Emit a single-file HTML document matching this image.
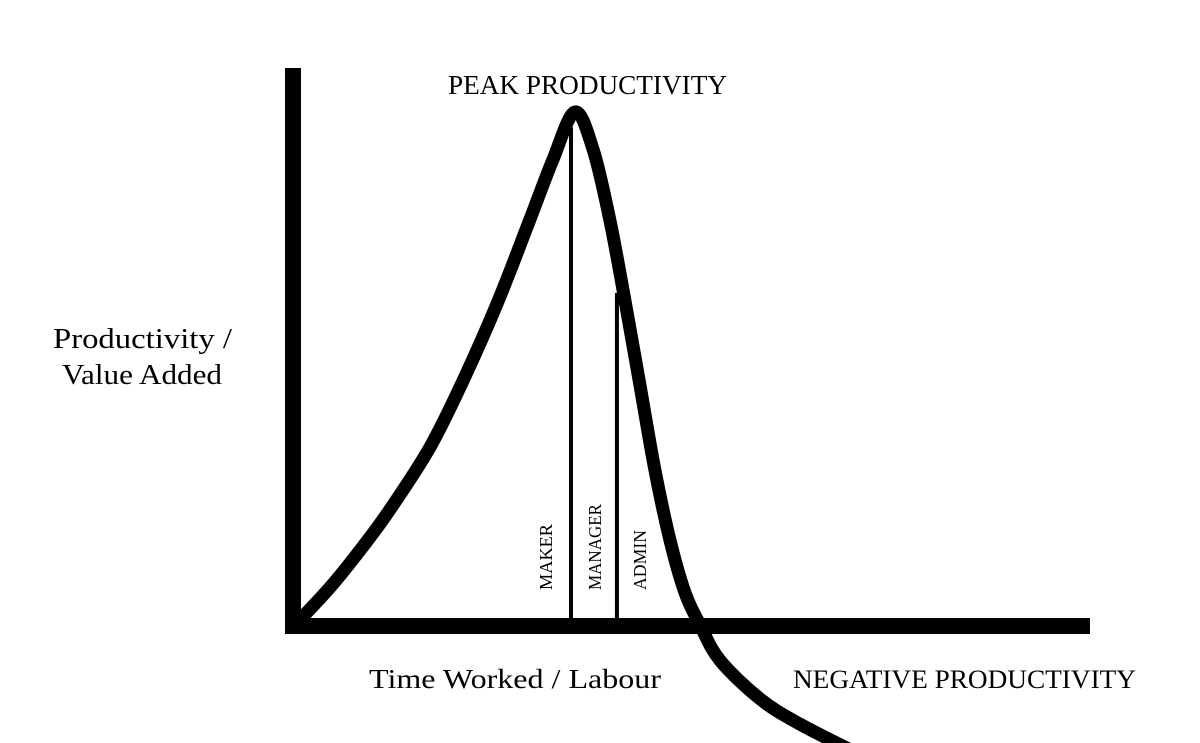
<!DOCTYPE html>
<html><head><meta charset="utf-8"><style>
html,body{margin:0;padding:0;background:#fff;}
svg{display:block;font-family:"Liberation Serif","DejaVu Serif",serif;}
</style></head><body>
<svg id="chart" width="1200" height="743" viewBox="0 0 1200 743">
<rect x="285" y="68" width="16" height="566" fill="#000"/>
<rect x="285" y="618" width="805" height="16" fill="#000"/>
<text x="448" y="94" font-size="27" textLength="279" lengthAdjust="spacingAndGlyphs">PEAK PRODUCTIVITY</text>
<text x="53" y="348" font-size="28" textLength="179" lengthAdjust="spacingAndGlyphs">Productivity /</text>
<text x="62" y="384" font-size="28" textLength="160" lengthAdjust="spacingAndGlyphs">Value Added</text>
<text x="369" y="688" font-size="27" textLength="292" lengthAdjust="spacingAndGlyphs">Time Worked / Labour</text>
<text x="793" y="688" font-size="26" textLength="343" lengthAdjust="spacingAndGlyphs">NEGATIVE PRODUCTIVITY</text>
<g id="marks"></g>
</svg>
<script>
const curveX=[0.5,4.7,8.8,12.2,17.3,21.5,25.8,29.9,32.8,35.6,37.9,40.0,41.9,43.8,45.7,47.6,49.5,51.4,53.9,59.0,64.0,71.6];
const curveY=[0.6,7.6,15.5,22.7,35.0,48.1,63.2,79.5,91.2,100.6,93.2,79.5,63.8,47.2,30.5,16.8,6.5,0.2,-6.7,-14.3,-19.2,-25.2];
const roleNames=["MAKER","MANAGER","ADMIN"];
const roleX=[35.1,40.9];
const roleTop=[97.6,65.2];
const sx=v=>293+v*7.92, sy=v=>626-v*5.11;
const NS="http://www.w3.org/2000/svg";
const g=document.getElementById('marks');
const pts=curveX.map((x,i)=>[sx(x),sy(curveY[i])]);
let d=`M${pts[0][0]},${pts[0][1]}`;
for(let i=0;i<pts.length-1;i++){
  const p0=pts[Math.max(0,i-1)],p1=pts[i],p2=pts[i+1],p3=pts[Math.min(pts.length-1,i+2)];
  d+=` C${p1[0]+(p2[0]-p0[0])/6},${p1[1]+(p2[1]-p0[1])/6} ${p2[0]-(p3[0]-p1[0])/6},${p2[1]-(p3[1]-p1[1])/6} ${p2[0]},${p2[1]}`;
}
const path=document.createElementNS(NS,'path');
path.setAttribute('d',d);path.setAttribute('fill','none');path.setAttribute('stroke','#000');path.setAttribute('stroke-width','13');path.setAttribute('stroke-linecap','round');path.setAttribute('stroke-linejoin','round');


g.appendChild(path);
roleX.forEach((x,i)=>{
  const l=document.createElementNS(NS,'line');
  l.setAttribute('x1',sx(x));l.setAttribute('x2',sx(x));l.setAttribute('y1',sy(roleTop[i]));l.setAttribute('y2',620);
  l.setAttribute('stroke','#000');l.setAttribute('stroke-width','4');
  
  
  g.appendChild(l);
});
const labelX=[sx(roleX[0])-19,sx(roleX[0])+30,sx(roleX[1])+29];
const labelLen=[66,86,60];
roleNames.forEach((n,i)=>{
  const t=document.createElementNS(NS,'text');
  t.setAttribute('transform',`translate(${labelX[i]},590) rotate(-90)`);
  t.setAttribute('font-size','18');
  t.setAttribute('textLength',labelLen[i]);
  t.setAttribute('lengthAdjust','spacingAndGlyphs');
  t.textContent=n;
  
  
  g.appendChild(t);
});
</script>
</body></html>
